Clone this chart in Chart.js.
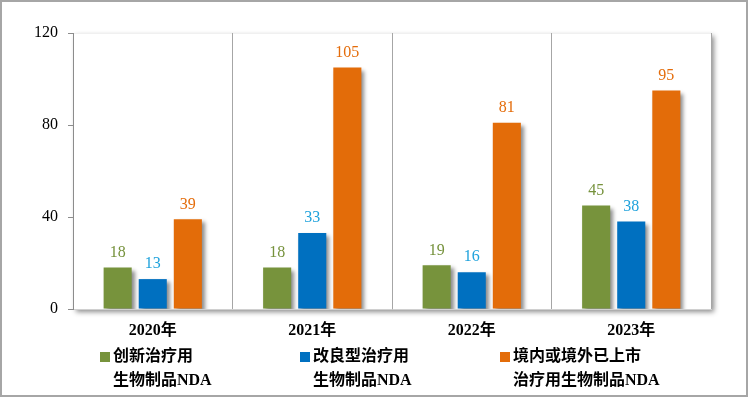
<!DOCTYPE html>
<html>
<head>
<meta charset="utf-8">
<script src="https://cdn.jsdelivr.net/npm/chart.js@4.4.0/dist/chart.umd.min.js"></script>
<style>
  html, body { margin: 0; padding: 0; background: #fff; }
  #wrap { width: 748px; height: 397px; position: relative; }
</style>
</head>
<body>
<div id="wrap"><canvas id="ndaChart" width="748" height="397"></canvas></div>
<script>
/* ---- data ---- */
const years      = ['2020年', '2021年', '2022年', '2023年'];
const innovative = [18, 18, 19, 45];
const improved   = [13, 33, 16, 38];
const marketed   = [39, 105, 81, 95];
const legendText = [
  ['创新治疗用', '生物制品NDA'],
  ['改良型治疗用', '生物制品NDA'],
  ['境内或境外已上市', '治疗用生物制品NDA'],
];
const yTicks = [0, 40, 80, 120];

const barColors   = ['#77933c', '#0070c0', '#e36c09'];
const labelColors = ['#76923c', '#1fa2dc', '#e46c0a'];
const FONT = "'Liberation Serif', 'Noto Sans CJK SC', serif";

/* ---- plugins ---- */
const frame = {
  id: 'frame',
  beforeDraw(chart) {
    const { ctx, chartArea: a } = chart;
    ctx.save();
    ctx.fillStyle = '#fff';
    ctx.fillRect(0, 0, chart.width, chart.height);
    // plot area with drop shadow
    ctx.shadowColor = 'rgba(0,0,0,0.45)';
    ctx.shadowBlur = 5;
    ctx.shadowOffsetX = 3;
    ctx.shadowOffsetY = 3;
    ctx.fillRect(a.left, a.top, a.right - a.left, a.bottom - a.top);
    ctx.restore();
    ctx.save();
    ctx.strokeStyle = '#f0f0f0';
    ctx.lineWidth = 1;
    ctx.beginPath();
    ctx.moveTo(a.left, a.top + 0.5);
    ctx.lineTo(a.right, a.top + 0.5);
    ctx.stroke();
    ctx.restore();
  },
  afterDraw(chart) {
    const { ctx } = chart;
    ctx.save();
    ctx.strokeStyle = '#a6a6a6';
    ctx.lineWidth = 2;
    ctx.strokeRect(1, 1, chart.width - 2, chart.height - 2);
    ctx.restore();
  },
};

const barShadow = {
  id: 'barShadow',
  beforeDatasetsDraw(chart) {
    const ctx = chart.ctx;
    ctx.save();
    ctx.shadowColor = 'rgba(0,0,0,0.45)';
    ctx.shadowBlur = 4;
    ctx.shadowOffsetX = 3;
    ctx.shadowOffsetY = 3;
  },
  afterDatasetsDraw(chart) {
    chart.ctx.restore();
  },
};

const valueLabels = {
  id: 'valueLabels',
  afterDatasetsDraw(chart) {
    const ctx = chart.ctx;
    ctx.save();
    ctx.font = '16px ' + FONT;
    ctx.textAlign = 'center';
    ctx.textBaseline = 'bottom';
    chart.data.datasets.forEach((ds, i) => {
      ctx.fillStyle = labelColors[i];
      chart.getDatasetMeta(i).data.forEach((bar, j) => {
        ctx.fillText(ds.data[j], bar.x, bar.y - 7);
      });
    });
    ctx.restore();
  },
};

const bottomLegend = {
  id: 'bottomLegend',
  afterDraw(chart) {
    const ctx = chart.ctx;
    const xs = [100, 300, 500];
    ctx.save();
    ctx.font = 'bold 16px ' + FONT;
    ctx.textBaseline = 'middle';
    ctx.fillStyle = '#000';
    legendText.forEach((lines, i) => {
      ctx.fillStyle = barColors[i];
      ctx.fillRect(xs[i], 352, 10, 10);
      ctx.fillStyle = '#000';
      ctx.fillText(lines[0], xs[i] + 13, 357);
      ctx.fillText(lines[1], xs[i] + 13, 381);
    });
    ctx.restore();
  },
};

/* ---- chart ---- */
new Chart(document.getElementById('ndaChart'), {
  type: 'bar',
  data: {
    labels: years,
    datasets: [
      { label: legendText[0].join(''), data: innovative, backgroundColor: barColors[0] },
      { label: legendText[1].join(''), data: improved,   backgroundColor: barColors[1] },
      { label: legendText[2].join(''), data: marketed,   backgroundColor: barColors[2] },
    ],
  },
  options: {
    responsive: false,
    animation: false,
    layout: { padding: { top: 33, right: 37, left: 0, bottom: 0 } },
    datasets: { bar: { categoryPercentage: 0.66, barPercentage: 0.8 } },
    plugins: { legend: { display: false }, tooltip: { enabled: false } },
    scales: {
      x: {
        grid: { display: true, offset: true, color: '#a6a6a6', lineWidth: 1, drawTicks: false },
        border: { display: true, color: '#d0d0d0' },
        ticks: { color: '#000', padding: 12, font: { family: FONT, size: 16, weight: 'bold' } },
        afterFit(s) { s.height = 88; },
      },
      y: {
        min: 0,
        max: 120,
        afterBuildTicks(s) { s.ticks = yTicks.map(v => ({ value: v })); },
        grid: { drawOnChartArea: false, drawTicks: true, tickLength: 5, color: '#8c8c8c' },
        border: { display: true, color: '#8c8c8c', width: 1 },
        ticks: { color: '#000', padding: 10, font: { family: FONT, size: 16 } },
        afterFit(s) { s.width = 73; },
      },
    },
  },
  plugins: [frame, barShadow, valueLabels, bottomLegend],
});
</script>
</body>
</html>
